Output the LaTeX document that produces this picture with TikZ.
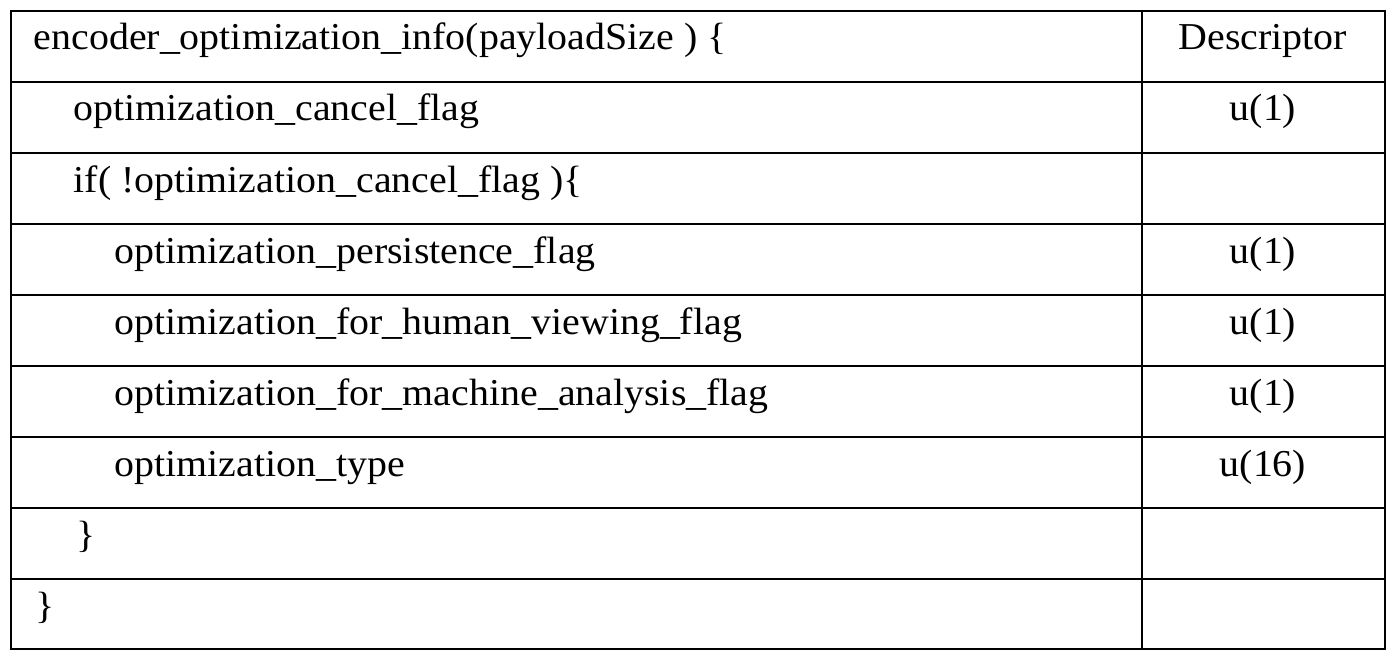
\documentclass[tikz,border=0pt]{standalone}
\usepackage{fontspec}
\setmainfont[FakeStretch=1.05]{Liberation Serif}
\begin{document}
\begin{tikzpicture}[x=1pt,y=-1pt,line width=1.5pt,
  txt/.style={anchor=base west,inner sep=0pt,font=\fontsize{38}{40}\selectfont},
  dsc/.style={anchor=base,inner sep=0pt,font=\fontsize{38}{40}\selectfont}]
\useasboundingbox (0,0) rectangle (1395,661);
\draw (11,11) rectangle (1385,649);
\draw (1142,11) -- (1142,649);
\foreach \y in {82,153,224,295,366,437,508,579} \draw (11,\y) -- (1385,\y);
\node[txt] (r0) at (33,50) {encoder\_optimization\_info(payloadSize ) \{};
\node[dsc] (d0) at (1263,50) {Descriptor};
\node[txt] (r1) at (73,121) {optimization\_cancel\_flag};
\node[dsc] (d1) at (1263,121) {u(1)};
\node[txt] (r2) at (73,192) {if( !optimization\_cancel\_flag )\{};
\node[txt] (r3) at (114,263) {optimization\_persistence\_flag};
\node[dsc] (d3) at (1263,263) {u(1)};
\node[txt] (r4) at (114,334) {optimization\_for\_human\_viewing\_flag};
\node[dsc] (d4) at (1263,334) {u(1)};
\node[txt] (r5) at (114,405) {optimization\_for\_machine\_analysis\_flag};
\node[dsc] (d5) at (1263,405) {u(1)};
\node[txt] (r6) at (114,476) {optimization\_type};
\node[dsc] (d6) at (1263,476) {u(16)};
\node[txt] (r7) at (76,547) {\}};
\node[txt] (r8) at (35,618) {\}};
\end{tikzpicture}
\end{document}
